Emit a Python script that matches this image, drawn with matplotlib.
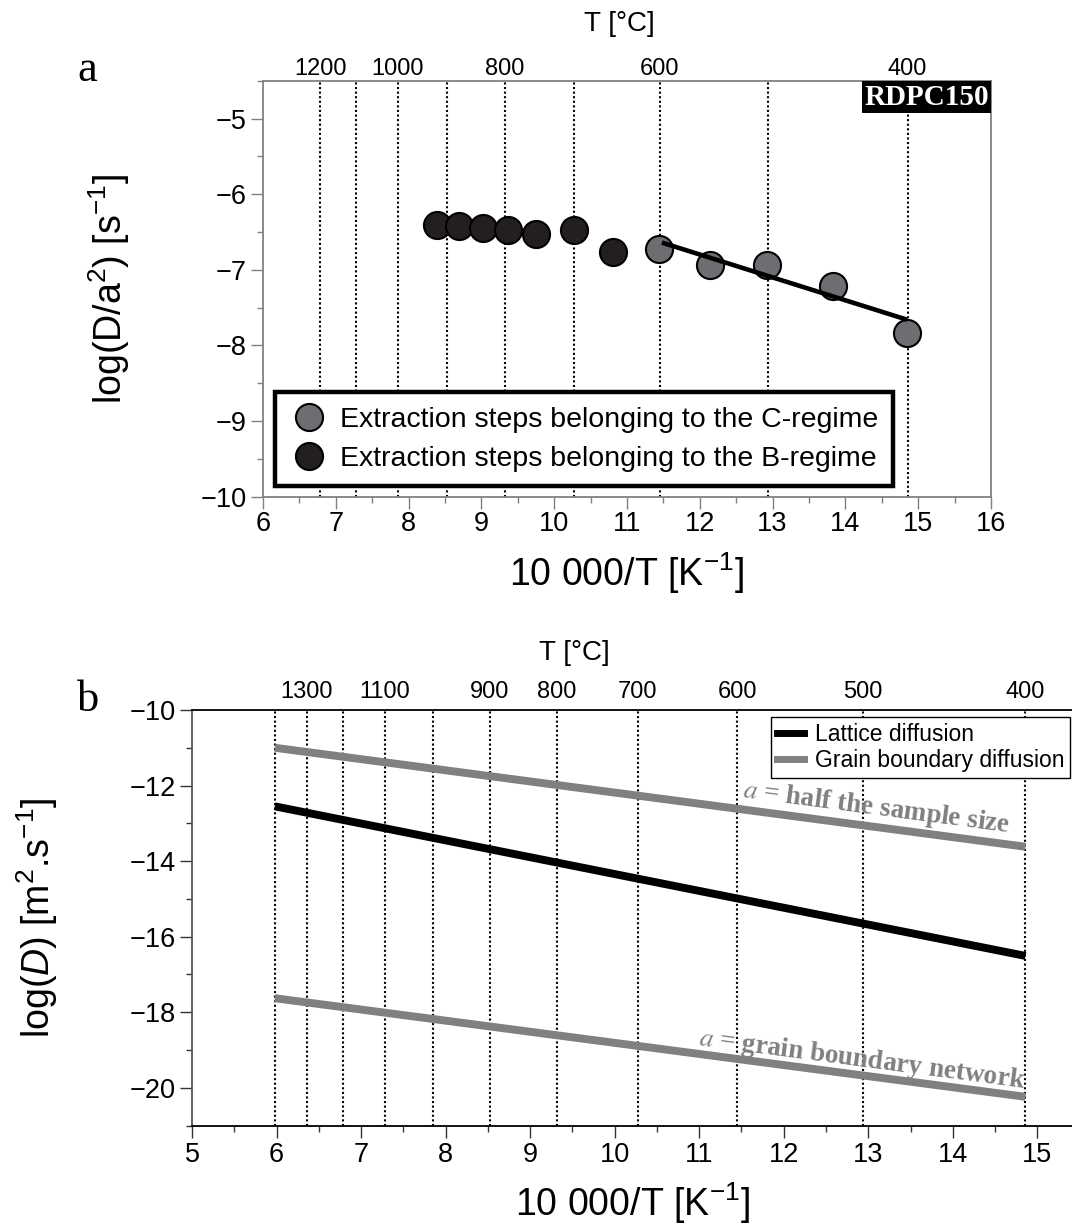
import numpy as np
import matplotlib
matplotlib.use("Agg")
import matplotlib.pyplot as plt
import matplotlib.transforms as mtransforms
from matplotlib.lines import Line2D
from matplotlib.ticker import MultipleLocator

plt.rcParams['font.family'] = ['Liberation Sans', 'DejaVu Sans']
plt.rcParams['mathtext.fontset'] = 'custom'
plt.rcParams['mathtext.rm'] = 'Liberation Sans'
plt.rcParams['mathtext.it'] = 'Liberation Sans:italic'
plt.rcParams['mathtext.bf'] = 'Liberation Sans:bold'
plt.rcParams['mathtext.default'] = 'regular'

# ---- panel a: step-heating data (10 000/T, log(D/a^2))
b_x = [8.39, 8.69, 9.02, 9.37, 9.75, 10.27, 10.81]
b_y = [-6.41, -6.42, -6.45, -6.48, -6.52, -6.48, -6.76]
c_x = [11.44, 12.14, 12.93, 13.83, 14.85]
c_y = [-6.72, -6.93, -6.93, -7.22, -7.83]
fit_x = [11.48, 14.85]
fit_y = [-6.64, -7.66]
temps_a = [1200, 1100, 1000, 900, 800, 700, 600, 500, 400]
temp_labels_a = [1200, 1000, 800, 600, 400]

# ---- panel b: Arrhenius lines
line_x = [5.98, 14.86]
lattice_y = [-12.55, -16.51]
gb_sample_y = [-11.0, -13.62]
gb_network_y = [-17.63, -20.24]
temps_b = [1400, 1300, 1200, 1100, 1000, 900, 800, 700, 600, 500, 400]
temp_labels_b = [1300, 1100, 900, 800, 700, 600, 500, 400]


def inv_t(t):
    return 10000.0 / (t + 273.15)


dot = (0, (1, 1.2))
fig = plt.figure(figsize=(10.72, 12.25), dpi=100)

# ================= panel a =================
ax1 = fig.add_axes([0.2453, 0.5945, 0.6791, 0.3396])
for t in temps_a:
    ax1.axvline(inv_t(t), color='black', lw=1.5, ls=dot, zorder=1)

ax1.plot(b_x, b_y, 'o', ms=19.5, mfc='#231f20', mec='black', mew=1.5, zorder=3)
ax1.plot(c_x, c_y, 'o', ms=19.5, mfc='#6d6e71', mec='black', mew=1.5, zorder=3)
ax1.plot(fit_x, fit_y, color='black', lw=3.3, solid_capstyle='butt', zorder=4)

ax1.set_xlim(6, 16)
ax1.set_ylim(-10, -4.5)
ax1.xaxis.set_major_locator(MultipleLocator(1))
ax1.xaxis.set_minor_locator(MultipleLocator(0.5))
ax1.yaxis.set_major_locator(MultipleLocator(1))
ax1.yaxis.set_minor_locator(MultipleLocator(0.5))
for s in ax1.spines.values():
    s.set_color('#808080')
    s.set_linewidth(1.3)
ax1.tick_params(which='both', direction='out', color='#808080', width=1, top=False, right=False)
ax1.tick_params(which='major', length=8.5, labelsize=19.5)
ax1.tick_params(which='minor', length=4.3)
ax1.tick_params(axis='x', pad=2)
ax1.tick_params(axis='y', pad=3)

h_c = Line2D([], [], ls='none', marker='o', ms=19.5, mfc='#6d6e71', mec='black', mew=1.5)
h_b = Line2D([], [], ls='none', marker='o', ms=19.5, mfc='#231f20', mec='black', mew=1.5)
leg1 = ax1.legend([h_c, h_b], ['Extraction steps belonging to the C-regime',
                               'Extraction steps belonging to the B-regime'],
                  loc='lower left', bbox_to_anchor=(0.0165, 0.026), borderaxespad=0,
                  fontsize=20.5, fancybox=False, framealpha=1, edgecolor='black',
                  handlelength=1.4, handletextpad=0.4, borderpad=0.5, labelspacing=0.46)
leg1.get_frame().set_linewidth(3.2)
leg1.set_zorder(5)

ax1.set_xlabel(r'10 000/T [K$^{-1}$]', fontsize=27)
ax1.xaxis.set_label_coords(0.5, -0.13)
ax1.set_ylabel(r'log(D/a$^2$) [s$^{-1}$]', fontsize=27)
ax1.yaxis.set_label_coords(-0.18, 0.5)

top1 = mtransforms.blended_transform_factory(ax1.transData, ax1.transAxes)
for t in temp_labels_a:
    ax1.text(inv_t(t), 1.014, str(t), transform=top1, ha='center', va='baseline', fontsize=17)
ax1.text(0.49, 1.136, 'T [°C]', transform=ax1.transAxes, ha='center', va='center', fontsize=20)

ax1.text(0.997, 0.993, 'RDPC150', transform=ax1.transAxes, ha='right', va='top',
         color='white', fontsize=21, fontweight='bold', family='Liberation Serif',
         bbox=dict(boxstyle='square,pad=0.08', fc='black', ec='none'), zorder=6)

fig.text(77 / 1072, 1 - 80.7 / 1225, 'a', family='Liberation Serif', fontsize=32,
         ha='left', va='baseline')

# ================= panel b =================
ax2 = fig.add_axes([0.1791, 0.0812, 0.8209, 0.3392])
for t in temps_b:
    ax2.axvline(inv_t(t), color='black', lw=1.5, ls=dot, zorder=1)

ax2.plot(line_x, gb_sample_y, color='#808080', lw=5.7, solid_capstyle='butt', zorder=3)
ax2.plot(line_x, lattice_y, color='black', lw=5.7, solid_capstyle='butt', zorder=3)
ax2.plot(line_x, gb_network_y, color='#808080', lw=5.7, solid_capstyle='butt', zorder=3)

ax2.set_xlim(5, 15.41)
ax2.set_ylim(-21, -10)
ax2.xaxis.set_major_locator(MultipleLocator(1))
ax2.xaxis.set_minor_locator(MultipleLocator(0.5))
ax2.yaxis.set_major_locator(MultipleLocator(2))
ax2.yaxis.set_minor_locator(MultipleLocator(1))
ax2.spines['right'].set_visible(False)
ax2.spines['left'].set_color('#555555')
for k in ['left', 'top', 'bottom']:
    ax2.spines[k].set_linewidth(1.3)
ax2.tick_params(which='both', direction='out', color='#333333', width=1, top=False, right=False)
ax2.tick_params(which='major', length=8.5, labelsize=19.5)
ax2.tick_params(which='minor', length=4.3)
ax2.tick_params(axis='x', pad=3)
ax2.tick_params(axis='y', pad=3)

h_lat = Line2D([], [], color='black', lw=5)
h_gb = Line2D([], [], color='#808080', lw=5)
leg2 = ax2.legend([h_lat, h_gb], ['Lattice diffusion', 'Grain boundary diffusion'],
                  loc='upper right', bbox_to_anchor=(0.9977, 0.983), borderaxespad=0,
                  fontsize=16.5, fancybox=False, framealpha=1, edgecolor='black',
                  handlelength=1.2, handletextpad=0.45, borderpad=0.25, labelspacing=0.15)
leg2.get_frame().set_linewidth(1)
leg2.set_zorder(5)

ax2.set_xlabel(r'10 000/T [K$^{-1}$]', fontsize=27)
ax2.xaxis.set_label_coords(0.5, -0.132)
ax2.set_ylabel(r'log($\mathit{D}$) [m$^2$.s$^{-1}$]', fontsize=27)
ax2.yaxis.set_label_coords(-0.15, 0.5)

top2 = mtransforms.blended_transform_factory(ax2.transData, ax2.transAxes)
for t in temp_labels_b:
    ax2.text(inv_t(t), 1.029, str(t), transform=top2, ha='center', va='baseline', fontsize=17)
ax2.text(0.435, 1.137, 'T [°C]', transform=ax2.transAxes, ha='center', va='center', fontsize=20)

# rotate annotations along the grain boundary lines
p0 = ax2.transData.transform((line_x[0], gb_sample_y[0]))
p1 = ax2.transData.transform((line_x[1], gb_sample_y[1]))
ang1 = np.degrees(np.arctan2(p1[1] - p0[1], p1[0] - p0[0]))
p0 = ax2.transData.transform((line_x[0], gb_network_y[0]))
p1 = ax2.transData.transform((line_x[1], gb_network_y[1]))
ang2 = np.degrees(np.arctan2(p1[1] - p0[1], p1[0] - p0[0]))

ax2.text(13.1, -12.59, r'$\mathit{a}$ = half the sample size', rotation=ang1, rotation_mode='anchor',
         ha='center', va='center', color='#808080', fontsize=19.5, fontweight='bold',
         family='Liberation Serif', math_fontfamily='stix', zorder=4)
ax2.text(12.93, -19.27, r'$\mathit{a}$ = grain boundary network', rotation=ang2, rotation_mode='anchor',
         ha='center', va='center', color='#808080', fontsize=19.5, fontweight='bold',
         family='Liberation Serif', math_fontfamily='stix', zorder=4)

fig.text(77 / 1072, 1 - 711 / 1225, 'b', family='Liberation Serif', fontsize=32,
         ha='left', va='baseline')

fig.savefig('out.png', dpi=100)
